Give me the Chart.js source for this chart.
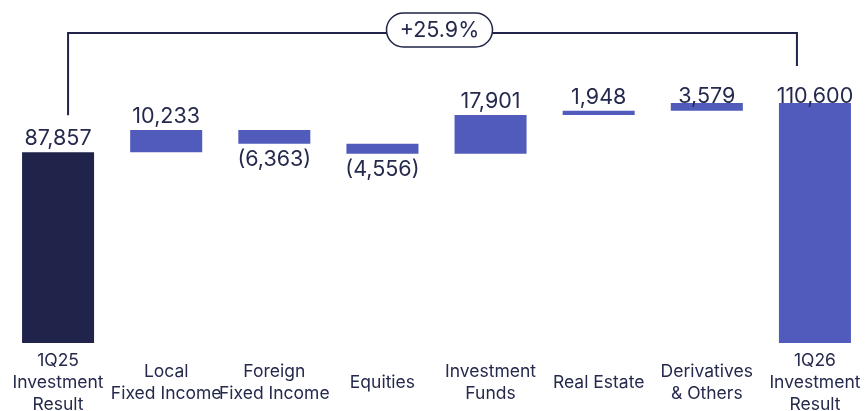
<!DOCTYPE html>
<html>
<head>
<meta charset="utf-8">
<script src="https://cdn.jsdelivr.net/npm/chart.js"></script>
<style>
  html, body { margin: 0; padding: 0; background: #fff; overflow: hidden; }
  #wrap { width: 869px; height: 411px; }
</style>
</head>
<body>
<div id="wrap"><canvas id="waterfall-chart" width="869" height="411"></canvas></div>
<script>
// categories (multi-line labels)
var categories = [
    ['1Q25', 'Investment', 'Result'],
    ['Local', 'Fixed Income'],
    ['Foreign', 'Fixed Income'],
    ['Equities'],
    ['Investment', 'Funds'],
    ['Real Estate'],
    ['Derivatives', '& Others'],
    ['1Q26', 'Investment', 'Result']
];
var startValue = 87857;
var changes = [10233, -6363, -4556, 17901, 1948, 3579];
var endValue = 110600;
var valueLabels = ['87,857', '10,233', '(6,363)', '(4,556)', '17,901', '1,948', '3,579', '110,600'];
var growthLabel = '+25.9%';

var navy = '#20244a';
var blue = '#505bbb';
var textColor = '#252a4d';

// build floating bars from the running total
var bars = [[0, startValue]];
var running = startValue;
changes.forEach(function(c) {
    bars.push([running, running + c]);
    running += c;
});
bars.push([0, endValue]);

var colors = bars.map(function(b, i) {
    return i === 0 ? navy : blue;
});

var labelsPlugin = {
    id: 'waterfallLabels',
    afterDatasetsDraw: function(chart) {
        var ctx = chart.ctx;
        var meta = chart.getDatasetMeta(0);
        var y = chart.scales.y;
        var area = chart.chartArea;
        var topLimit = y.getPixelForValue(endValue);
        ctx.save();
        ctx.fillStyle = textColor;
        ctx.textAlign = 'center';
        ctx.textBaseline = 'alphabetic';
        ctx.font = '21.5px Inter';
        meta.data.forEach(function(bar, i) {
            var b = bars[i];
            var top = y.getPixelForValue(Math.max(b[0], b[1]));
            var bottom = y.getPixelForValue(Math.min(b[0], b[1]));
            if (b[1] < b[0]) {
                ctx.fillText(valueLabels[i], bar.x, bottom + 22);
            } else {
                ctx.fillText(valueLabels[i], bar.x, Math.max(top - 7, topLimit));
            }
        });

        // category labels, centred vertically under the axis
        ctx.font = '17.5px Inter';
        ctx.textBaseline = 'middle';
        var mid = area.bottom + 40;
        meta.data.forEach(function(bar, i) {
            var lines = categories[i];
            var first = mid - (lines.length - 1) * 11;
            lines.forEach(function(line, j) {
                ctx.fillText(line, bar.x, first + j * 22);
            });
        });

        // growth bracket
        var x1 = meta.data[0].x + 10;
        var x2 = meta.data[7].x - 18;
        var y1 = y.getPixelForValue(bars[0][1]) - 37;
        var y2 = y.getPixelForValue(endValue) - 37;
        var lineY = area.top + 33;
        ctx.strokeStyle = navy;
        ctx.lineWidth = 2;
        ctx.beginPath();
        ctx.moveTo(x1, y1);
        ctx.lineTo(x1, lineY);
        ctx.lineTo(x2, lineY);
        ctx.lineTo(x2, y2);
        ctx.stroke();

        var cx = (meta.data[3].x + meta.data[4].x) / 2 + 3;
        var w = 106, h = 34, r = 17;
        var px = cx - w / 2, py = lineY - 20;
        ctx.beginPath();
        ctx.moveTo(px + r, py);
        ctx.lineTo(px + w - r, py);
        ctx.arc(px + w - r, py + r, r, -Math.PI / 2, Math.PI / 2);
        ctx.lineTo(px + r, py + h);
        ctx.arc(px + r, py + r, r, Math.PI / 2, Math.PI * 1.5);
        ctx.closePath();
        ctx.fillStyle = '#fff';
        ctx.fill();
        ctx.lineWidth = 1.5;
        ctx.stroke();
        ctx.fillStyle = textColor;
        ctx.font = '21.5px Inter';
        ctx.textBaseline = 'middle';
        ctx.fillText(growthLabel, cx, py + h / 2 + 1);
        ctx.restore();
    }
};

var ctx = document.getElementById('waterfall-chart').getContext('2d');
var waterfallChart = new Chart(ctx, {
    type: 'bar',
    data: {
        labels: categories.map(function(c) { return c.join(' '); }),
        datasets: [{
            data: bars,
            backgroundColor: colors,
            borderWidth: 0,
            borderSkipped: false,
            barPercentage: 0.666,
            categoryPercentage: 1
        }]
    },
    options: {
        responsive: false,
        animation: false,
        layout: {
            padding: { left: 4, right: 0, top: 0, bottom: 68 }
        },
        scales: {
            x: { display: false },
            y: { display: false, min: 0, max: 158000 }
        },
        plugins: {
            legend: { display: false },
            tooltip: { enabled: false }
        }
    },
    plugins: [labelsPlugin]
});
</script>
</body>
</html>
